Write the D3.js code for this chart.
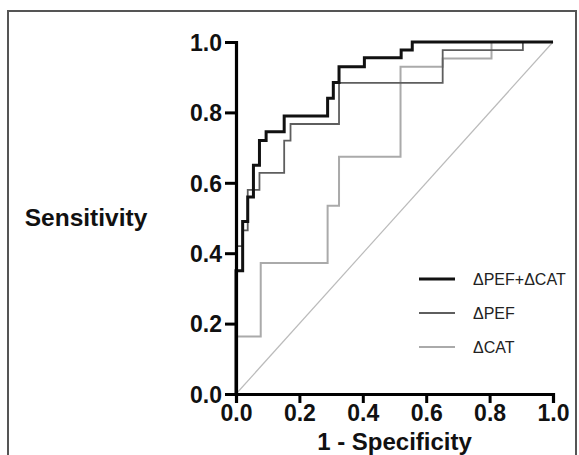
<!DOCTYPE html>
<html>
<head>
<meta charset="utf-8">
<script src="https://cdn.jsdelivr.net/npm/d3@7"></script>
<style>
  body { margin: 0; background: #fff; }
  svg { display: block; }
  text { font-family: "Liberation Sans", Arial, Helvetica, sans-serif; }
</style>
</head>
<body>
<svg id="chart" width="579" height="455"></svg>
<script>
// ROC points (x = 1 - specificity, y = sensitivity)
const comboFpr = [0, 0, 0.021, 0.037, 0.055, 0.074, 0.095, 0.152, 0.289, 0.307, 0.325, 0.405, 0.521, 0.556, 1];
const comboTpr = [0, 0.35, 0.49, 0.56, 0.65, 0.72, 0.745, 0.79, 0.84, 0.885, 0.93, 0.955, 0.977, 1, 1];

const pefFpr = [0, 0, 0.021, 0.037, 0.074, 0.152, 0.172, 0.325, 0.652, 0.905, 1];
const pefTpr = [0, 0.42, 0.465, 0.58, 0.628, 0.72, 0.767, 0.884, 0.977, 1, 1];

const catFpr = [0, 0, 0.078, 0.289, 0.325, 0.519, 0.652, 0.806, 1];
const catTpr = [0, 0.163, 0.372, 0.535, 0.674, 0.93, 0.953, 1, 1];

const seriesNames = ['ΔPEF+ΔCAT', 'ΔPEF', 'ΔCAT'];
const tickValues = [0, 0.2, 0.4, 0.6, 0.8, 1.0];

const svg = d3.select('#chart');

// outer frame (bottom edge falls outside the picture)
svg.append('rect')
  .attr('x', 8).attr('y', 11)
  .attr('width', 568).attr('height', 470)
  .attr('fill', 'none')
  .attr('stroke', '#555')
  .attr('stroke-width', 2);

const x = d3.scaleLinear().domain([0, 1]).range([236, 553]);
const y = d3.scaleLinear().domain([0, 1]).range([394, 42]);

const series = [
  { name: seriesNames[0], fpr: comboFpr, tpr: comboTpr, color: '#111', width: 3 },
  { name: seriesNames[1], fpr: pefFpr, tpr: pefTpr, color: '#5e5e5e', width: 1.8 },
  { name: seriesNames[2], fpr: catFpr, tpr: catTpr, color: '#aaa', width: 2 }
];

// reference diagonal
svg.append('line')
  .attr('x1', x(0)).attr('y1', y(0))
  .attr('x2', x(1)).attr('y2', y(1))
  .attr('stroke', '#bbb')
  .attr('stroke-width', 1.2);

const line = d3.line()
  .x(d => x(d[0]))
  .y(d => y(d[1]))
  .curve(d3.curveStepAfter);

// draw lighter curves first so the combined one sits on top
series.slice().reverse().forEach(s => {
  svg.append('path')
    .datum(d3.zip(s.fpr, s.tpr))
    .attr('fill', 'none')
    .attr('stroke', s.color)
    .attr('stroke-width', s.width)
    .attr('d', line);
});

// axes
const xAxis = d3.axisBottom(x).tickValues(tickValues).tickFormat(d3.format('.1f')).tickSize(9).tickPadding(2);
const yAxis = d3.axisLeft(y).tickValues(tickValues).tickFormat(d3.format('.1f')).tickSize(11).tickPadding(3);

const gx = svg.append('g').attr('transform', `translate(0,${y(0)})`).call(xAxis);
const gy = svg.append('g').attr('transform', `translate(${x(0)},0)`).call(yAxis);

[gx, gy].forEach(g => {
  g.select('.domain').attr('stroke', '#000').attr('stroke-width', 3.2);
  g.selectAll('.tick line').attr('stroke', '#000').attr('stroke-width', 3);
  g.selectAll('.tick text')
    .attr('fill', '#111')
    .style('font-size', '23px')
    .style('font-weight', 'bold')
    .style('font-family', '"Liberation Sans", Arial, sans-serif');
});
gy.selectAll('.tick text').attr('dy', '0.36em');

// axis titles
svg.append('text')
  .attr('x', 86).attr('y', 226)
  .attr('text-anchor', 'middle')
  .style('font-size', '24.5px')
  .style('font-weight', 'bold')
  .attr('fill', '#111')
  .text('Sensitivity');

svg.append('text')
  .attr('x', x(0.5)).attr('y', 450)
  .attr('text-anchor', 'middle')
  .style('font-size', '24px')
  .style('font-weight', 'bold')
  .attr('fill', '#111')
  .text('1 - Specificity');

// legend
const legend = svg.append('g');
series.forEach((s, i) => {
  const ly = 279 + i * 34;
  legend.append('line')
    .attr('x1', 419).attr('x2', 455)
    .attr('y1', ly).attr('y2', ly)
    .attr('stroke', s.color)
    .attr('stroke-width', s.width);
  legend.append('text')
    .attr('x', 473).attr('y', ly)
    .attr('dy', '0.35em')
    .style('font-size', '16px')
    .attr('fill', '#222')
    .text(s.name);
});
</script>
</body>
</html>
